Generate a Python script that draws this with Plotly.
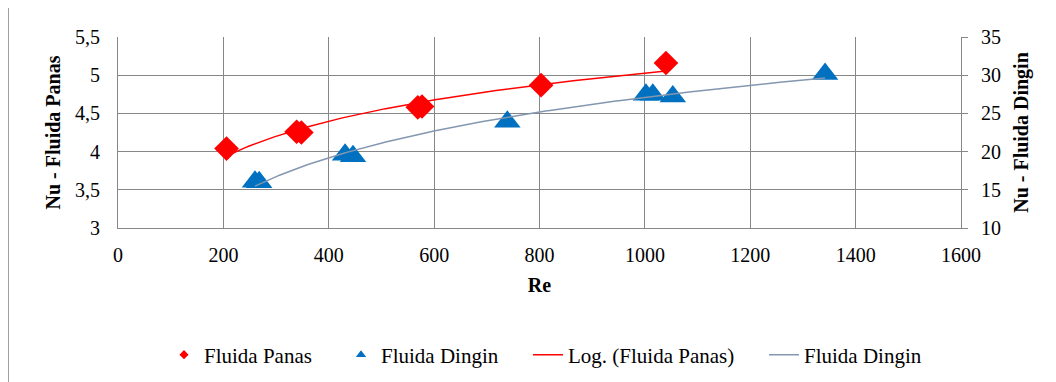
import numpy as np
import plotly.graph_objects as go

# ---- data ----
re_panas = [206, 339, 348, 569, 577, 803, 1040]
nu_panas = [4.04, 4.26, 4.25, 4.58, 4.59, 4.87, 5.16]

re_dingin = [260, 268, 431, 446, 739, 1002, 1015, 1053, 1342]
nu_dingin = [16.06, 16.0, 19.6, 19.4, 23.9, 27.45, 27.45, 27.2, 30.17]

x_ticks = [0, 200, 400, 600, 800, 1000, 1200, 1400, 1600]
y1_ticks = [3, 3.5, 4, 4.5, 5, 5.5]
y2_ticks = [10, 15, 20, 25, 30, 35]

legend_names = ["Fluida Panas", "Fluida Dingin", "Log. (Fluida Panas)", "Fluida Dingin"]

# ---- styling ----
FONT = "Liberation Serif, Times New Roman, Times, serif"
RED = "#FF0000"
BLUE = "#0070C0"
TREND_GREY = "#8497B0"
GRID = "#878787"
OFF = 8  # default page body margin
W, H = 1056 - OFF, 382 - OFF
# plot area in page pixels
PL, PR, PT, PB = 118, 961, 37, 228
ML, MR, MT, MB = PL - OFF, W - (PR - OFF), PT - OFF, H - (PB - OFF)
PW, PH = W - ML - MR, H - MT - MB


def px_x(p):
    return (p - PL) / PW


def px_y(p):
    return (PB - p) / PH


def cont_y(p):
    return (H - (p - OFF)) / H


def log_fit(x, y):
    x = np.asarray(x, float)
    a, b = np.polyfit(np.log(x), np.asarray(y, float), 1)
    xs = np.linspace(x.min(), x.max(), 200)
    return xs, a * np.log(xs) + b


fig = go.Figure()

fig.add_trace(go.Scatter(x=re_panas, y=nu_panas, mode="markers", showlegend=False,
                         marker=dict(symbol="diamond", size=19, color=RED, line=dict(width=0))))
tx, ty = log_fit(re_panas, nu_panas)
fig.add_trace(go.Scatter(x=tx, y=ty, mode="lines", showlegend=False,
                         line=dict(color=RED, width=1.5)))

fig.add_trace(go.Scatter(x=re_dingin, y=nu_dingin, mode="markers", yaxis="y2", showlegend=False,
                         marker=dict(symbol="triangle-up", size=23, color=BLUE, line=dict(width=0))))
dx, dy = log_fit(re_dingin, nu_dingin)
fig.add_trace(go.Scatter(x=dx, y=dy, mode="lines", yaxis="y2", showlegend=False,
                         line=dict(color=TREND_GREY, width=1.5)))

# legend entries, each in its own legend so they can be spaced like the original
leg_specs = [
    dict(name=legend_names[0], mode="markers", marker=dict(symbol="diamond", size=7, color=RED)),
    dict(name=legend_names[1], mode="markers", marker=dict(symbol="triangle-up", size=9, color=BLUE)),
    dict(name=legend_names[2], mode="lines", line=dict(color=RED, width=1.5)),
    dict(name=legend_names[3], mode="lines", line=dict(color=TREND_GREY, width=1.5)),
]
leg_ids = ["legend", "legend2", "legend3", "legend4"]
leg_x_px = [164, 341, 528, 764]
for spec, lid in zip(leg_specs, leg_ids):
    fig.add_trace(go.Scatter(x=[None], y=[None], showlegend=True, legend=lid, **spec))

legend_common = dict(orientation="h", xanchor="left", yanchor="middle",
                     yref="container", y=cont_y(355),
                     bgcolor="rgba(0,0,0,0)", borderwidth=0,
                     font=dict(family=FONT, size=21, color="black"))
leg_layout = {lid: dict(x=px_x(xp), **legend_common) for lid, xp in zip(leg_ids, leg_x_px)}

axis_font = dict(family=FONT, size=20, color="black")
title_font = dict(family=FONT, size=20, color="black")

fig.update_layout(
    width=W, height=H,
    margin=dict(l=ML, r=MR, t=MT, b=MB),
    paper_bgcolor="white", plot_bgcolor="white",
    separators=", ",
    font=dict(family=FONT, size=20, color="black"),
    xaxis=dict(range=[0, 1600], tickvals=x_ticks, ticktext=[str(v) for v in x_ticks],
               showgrid=True, gridcolor=GRID, gridwidth=1,
               showline=True, linecolor=GRID, linewidth=1, ticks="", zeroline=False,
               tickfont=axis_font, ticklabelstandoff=9,
               title=dict(text="<b>Re</b>", font=title_font, standoff=12)),
    yaxis=dict(range=[3, 5.5], tickvals=y1_ticks,
               showgrid=True, gridcolor=GRID, gridwidth=1,
               showline=True, linecolor=GRID, linewidth=1, ticks="", zeroline=False,
               tickfont=axis_font, ticklabelstandoff=13,
               title=dict(text="<b>Nu - Fluida Panas</b>", font=title_font, standoff=9)),
    yaxis2=dict(range=[10, 35], tickvals=y2_ticks, overlaying="y", side="right",
                showgrid=False, showline=True, linecolor=GRID, linewidth=1,
                ticks="outside", ticklen=6, tickcolor=GRID, zeroline=False,
                tickfont=axis_font, ticklabelstandoff=9,
                title=dict(text="<b>Nu - Fluida Dingin</b>", font=title_font, standoff=13)),
    shapes=[dict(type="rect", xref="paper", yref="paper",
                 x0=px_x(8.5), x1=px_x(1070), y0=px_y(400), y1=px_y(7.5),
                 line=dict(color="#A0A0A0", width=1), fillcolor="rgba(0,0,0,0)", layer="below")],
    **leg_layout,
)

fig.write_html("out.html")
